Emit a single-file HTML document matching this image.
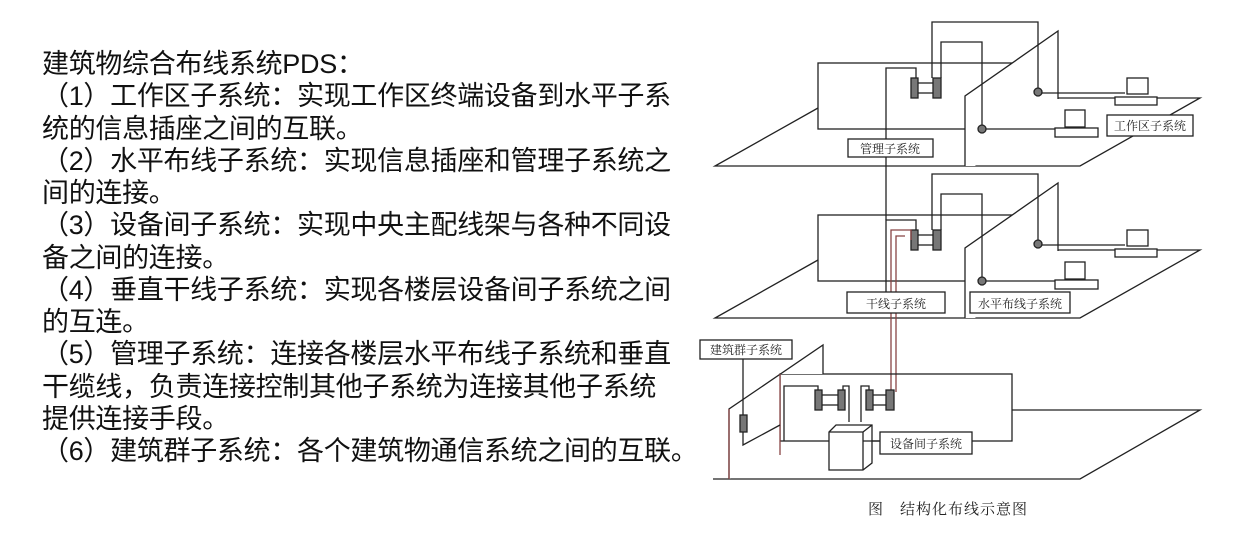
<!DOCTYPE html>
<html><head><meta charset="utf-8"><style>
body{margin:0;width:1234px;height:542px;background:#fff;overflow:hidden;position:relative}
.t{position:absolute;left:42px;top:48px;font-family:"Liberation Sans","Noto Sans CJK SC",sans-serif;font-size:27px;line-height:32.25px;color:#111;white-space:nowrap;letter-spacing:-0.3px}
svg{position:absolute;left:0;top:0}
</style></head><body>
<div class="t">建筑物综合布线系统PDS：<br>（1）工作区子系统：实现工作区终端设备到水平子系<br>统的信息插座之间的互联。<br>（2）水平布线子系统：实现信息插座和管理子系统之<br>间的连接。<br>（3）设备间子系统：实现中央主配线架与各种不同设<br>备之间的连接。<br>（4）垂直干线子系统：实现各楼层设备间子系统之间<br>的互连。<br>（5）管理子系统：连接各楼层水平布线子系统和垂直<br>干缆线，负责连接控制其他子系统为连接其他子系统<br>提供连接手段。<br>（6）建筑群子系统：各个建筑物通信系统之间的互联。</div>
<svg width="1234" height="542" viewBox="0 0 1234 542" fill="none" stroke="#222" stroke-width="1.3" font-family="Liberation Serif,'Noto Serif CJK SC',serif">
<defs>
<g id="floor">
<polyline points="818,108 715,166 1080,166 1200,98 1058,98"/>
<rect x="818" y="63" width="195" height="66" fill="#fff"/>
<polygon points="965,166 965,96 1058,31 1058,99 975,166" fill="#fff" stroke="none"/>
<polyline points="965,166 965,96 1058,31 1058,99"/>
<polyline points="886,157 886,68 916,68 916,78"/>
<polyline points="932,78 932,22 1038,22 1038,92"/>
<polyline points="941,78 941,42 982,42 982,129"/>
<line x1="917" y1="83" x2="933" y2="83"/><line x1="917" y1="93" x2="933" y2="93"/>
<rect x="911" y="78" width="7" height="20" fill="#777"/>
<rect x="933" y="78" width="8" height="20" fill="#777"/>
<circle cx="1038" cy="92" r="4" fill="#777"/>
<circle cx="982" cy="129" r="4" fill="#777"/>
<line x1="1042" y1="93" x2="1125" y2="93"/>
<line x1="986" y1="129" x2="1062" y2="129"/>
<rect x="1127" y="78" width="21" height="16" fill="#fff"/>
<rect x="1115" y="97" width="42" height="8" fill="#fff"/>
<rect x="1065" y="110" width="20" height="17" fill="#fff"/>
<rect x="1055" y="128" width="43" height="9" fill="#fff"/>
</g>
</defs>
<use href="#floor"/>
<use href="#floor" y="152"/>
<rect x="848" y="139" width="85" height="18" fill="#fff"/>
<text x="890" y="153" font-size="12" fill="#222" stroke="none" text-anchor="middle">管理子系统</text>
<rect x="1107" y="115" width="86" height="21" fill="#fff"/>
<text x="1150" y="130" font-size="12" fill="#222" stroke="none" text-anchor="middle">工作区子系统</text>
<line x1="886" y1="157" x2="886" y2="220"/>
<g stroke="#844">
<polyline points="891,392 891,230 911,230 911,240"/>
<polyline points="896,392 896,236 905,236"/>
</g>
<rect x="847" y="292" width="98" height="21" fill="#fff"/>
<text x="896" y="308" font-size="12" fill="#222" stroke="none" text-anchor="middle">干线子系统</text>
<rect x="970" y="292" width="100" height="21" fill="#fff"/>
<text x="1020" y="308" font-size="12" fill="#222" stroke="none" text-anchor="middle">水平布线子系统</text>
<polyline points="713,479 1080,479 1200,410 1012,410"/>
<rect x="780" y="374" width="232" height="67" fill="none"/>
<polygon points="729,479 729,409 823,345 823,374 780,374 780,455" fill="#fff" stroke="none"/>
<polyline points="729,479 729,409 823,345 823,374"/>
<line x1="780" y1="374" x2="780" y2="455" stroke="#844"/>
<line x1="729" y1="479" x2="729" y2="409" stroke="#844"/>
<polyline points="743,359 743,415"/>
<polyline points="743,432 743,445 780,425"/>
<rect x="740" y="415" width="7" height="17" fill="#777"/>
<polyline points="784,441 784,386 818,386 818,390"/>
<polyline points="843,390 843,386 849,386 849,422"/>
<polyline points="861,422 861,386 869,386 869,390"/>
<line x1="822" y1="395" x2="838" y2="395"/><line x1="822" y1="405" x2="838" y2="405"/>
<line x1="873" y1="395" x2="886" y2="395"/><line x1="873" y1="405" x2="886" y2="405"/>
<rect x="815" y="390" width="7" height="20" fill="#777"/>
<rect x="838" y="390" width="7" height="20" fill="#777"/>
<rect x="866" y="390" width="7" height="20" fill="#777"/>
<rect x="886" y="390" width="8" height="20" fill="#777"/>
<polygon points="829,432 836,425 872,425 872,463 863,470 829,470" fill="#fff"/>
<polyline points="829,432 863,432 872,425"/><line x1="863" y1="432" x2="863" y2="470"/>
<line x1="863" y1="441" x2="880" y2="441"/>
<rect x="880" y="432" width="92" height="22" fill="#fff"/>
<text x="926" y="448" font-size="12" fill="#222" stroke="none" text-anchor="middle">设备间子系统</text>
<rect x="700" y="340" width="92" height="19" fill="#fff"/>
<text x="746" y="354" font-size="12" fill="#222" stroke="none" text-anchor="middle">建筑群子系统</text>
<text x="868" y="514" font-size="15" fill="#222" stroke="none" letter-spacing="1">图　结构化布线示意图</text>
</svg>
</body></html>
